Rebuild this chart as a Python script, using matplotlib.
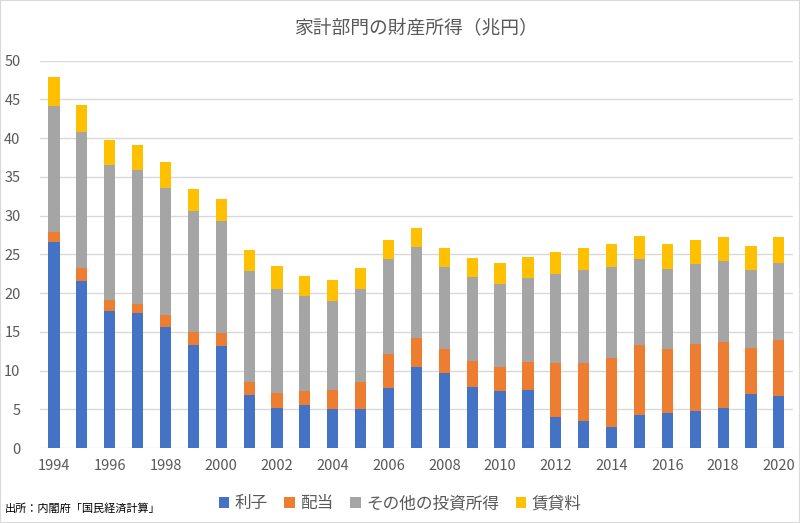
import matplotlib.pyplot as plt
import numpy as np
from matplotlib.patches import Rectangle

plt.rcParams['font.family'] = ['Noto Sans CJK JP', 'DejaVu Sans']

years = list(range(1994, 2021))
interest = [26.6, 21.6, 17.7, 17.4, 15.7, 13.3, 13.2, 6.9, 5.25, 5.55,
            5.1, 5.0, 7.75, 10.45, 9.7, 7.85, 7.35, 7.45, 4.05, 3.45,
            2.8, 4.25, 4.5, 4.85, 5.15, 7.05, 6.7]
dividends = [1.35, 1.7, 1.4, 1.25, 1.45, 1.7, 1.65, 1.65, 1.9, 1.8,
             2.35, 3.6, 4.45, 3.8, 3.1, 3.4, 3.1, 3.7, 6.9, 7.5,
             8.8, 9.1, 8.35, 8.55, 8.55, 5.9, 7.2]
other_invest = [16.25, 17.55, 17.45, 17.25, 16.45, 15.6, 14.45, 14.35, 13.4, 12.3,
                11.55, 11.95, 12.15, 11.65, 10.6, 10.8, 10.75, 10.8, 11.55, 12.05,
                11.8, 11.1, 10.3, 10.35, 10.4, 10.1, 9.95]
rent = [3.7, 3.45, 3.25, 3.2, 3.35, 2.85, 2.8, 2.7, 2.95, 2.6,
        2.65, 2.65, 2.55, 2.45, 2.45, 2.5, 2.65, 2.7, 2.85, 2.85,
        2.9, 2.9, 3.15, 3.15, 3.15, 3.1, 3.35]

series = [
    ("利子", interest, "#4472C4"),
    ("配当", dividends, "#ED7D31"),
    ("その他の投資所得", other_invest, "#A5A5A5"),
    ("賃貸料", rent, "#FFC000"),
]

fig = plt.figure(figsize=(8, 5.23), dpi=100)
ax = fig.add_axes([0.05, 0.143, 0.941, 0.741])

x = np.arange(len(years))
bottom = np.zeros(len(years))
for label, vals, color in series:
    ax.bar(x, vals, width=0.4, bottom=bottom, color=color, label=label, zorder=3)
    bottom += np.array(vals)

ax.set_ylim(0, 50)
ax.set_xlim(-0.5, len(years) - 0.5)
ax.set_yticks(range(0, 51, 5))
ax.set_xticks(x[::2])
ax.set_xticklabels([str(y) for y in years[::2]])
ax.tick_params(axis='both', length=0, labelsize=10.5, colors="#595959")
ax.tick_params(axis='x', pad=8)
ax.tick_params(axis='y', pad=14)
ax.grid(axis='y', color="#D9D9D9", linewidth=1, zorder=0)
for s in ax.spines.values():
    s.set_visible(False)

ax.set_title("家計部門の財産所得（兆円）", fontsize=13.5, color="#595959", pad=20)

fig.legend(loc='lower center', bbox_to_anchor=(0.5, -0.008), ncol=4, frameon=False,
           fontsize=12, handlelength=0.65, handleheight=0.65, handletextpad=0.3,
           columnspacing=1.0, labelcolor="#595959")

fig.text(0.006, 0.022, "出所：内閣府「国民経済計算」", fontsize=8, color="black")

fig.patches.append(Rectangle((0, 0), 1, 1, transform=fig.transFigure, fill=False,
                             edgecolor="#D9D9D9", linewidth=1.5))

fig.savefig("out.png", dpi=100)
